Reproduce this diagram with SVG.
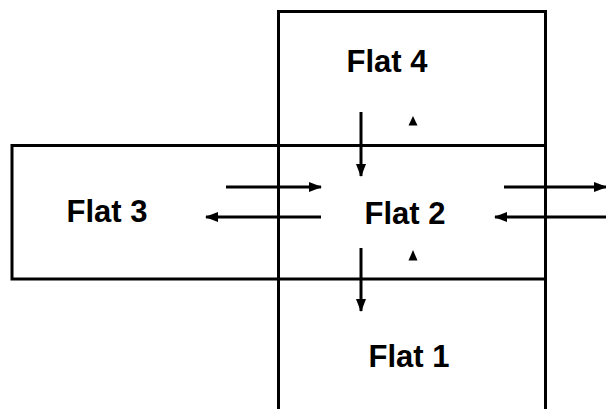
<svg xmlns="http://www.w3.org/2000/svg" width="606" height="409" viewBox="0 0 606 409">
<style>
.box{fill:none;stroke:#000;stroke-width:3}
.lbl{font-family:"Liberation Sans",Arial,sans-serif;font-weight:bold;font-size:31px;fill:#000;text-anchor:middle}
.ar{stroke:#000;stroke-width:3;fill:none;marker-end:url(#ah)}
.tri{fill:#000}
</style>
<defs>
<marker id="ah" markerUnits="userSpaceOnUse" markerWidth="13" markerHeight="13" viewBox="0 0 13 13" refX="12" refY="6.5" orient="auto">
<path d="M0,1.5 L13,6.5 L0,11.5 Z" fill="#000"/>
</marker>
</defs>
<rect width="606" height="409" fill="#fff"/>
<g id="flat1-4-column">
<rect class="box" x="278.5" y="11.5" width="267" height="420"/>
</g>
<g id="flat3-row">
<rect class="box" x="12" y="145.5" width="533.5" height="133.5"/>
</g>
<g id="flat4"><text class="lbl" x="387" y="72">Flat 4</text></g>
<g id="flat3"><text class="lbl" x="107" y="222">Flat 3</text></g>
<g id="flat2"><text class="lbl" x="405" y="224">Flat 2</text></g>
<g id="flat1"><text class="lbl" x="409" y="367">Flat 1</text></g>
<g id="connectors">
<line class="ar" x1="361" y1="112" x2="361" y2="176"/>
<line class="ar" x1="361" y1="248" x2="361" y2="311"/>
<line class="ar" x1="226" y1="187" x2="321" y2="187"/>
<line class="ar" x1="321" y1="217" x2="206" y2="217"/>
<line class="ar" x1="504" y1="187" x2="606" y2="187"/>
<line class="ar" x1="606" y1="217" x2="495" y2="217"/>
<polygon class="tri" points="408.5,125.5 413,116 417.5,125.5"/>
<polygon class="tri" points="408.5,260.5 413,250 417.5,260.5"/>
</g>
</svg>
